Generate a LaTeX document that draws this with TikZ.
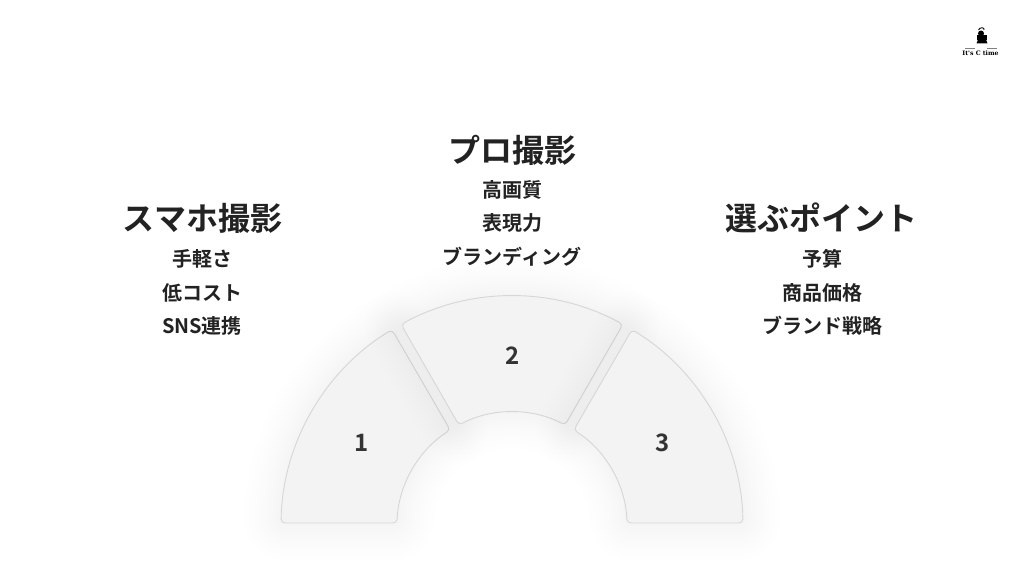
\documentclass[tikz,border=0pt]{standalone}
\usepackage{fontspec}
\setmainfont{Noto Sans CJK JP}[BoldFont={Noto Sans CJK JP Bold}]
\newfontfamily\logofont{DejaVu Serif}[BoldFont={DejaVu Serif Bold}]
\definecolor{inkdark}{HTML}{222222}
\definecolor{inknum}{HTML}{333333}
\definecolor{segfill}{HTML}{F3F3F3}
\definecolor{segline}{HTML}{D6D6D6}
\tikzset{
  headtext/.style={font=\fontsize{32}{32}\selectfont\bfseries,text=inkdark,inner sep=0pt,anchor=center},
  itemtext/.style={font=\fontsize{20}{20}\selectfont\bfseries,text=inkdark,inner sep=0pt,anchor=center},
  numtext/.style={font=\fontsize{24}{24}\selectfont\bfseries,text=inknum,inner sep=0pt,anchor=center},
  segshape/.style={fill=segfill,draw=segline,line width=0.9pt,rounded corners=4pt},
}
\def\segA{(179:231) arc[start angle=179,end angle=121.3,radius=231] -- (122.5:115) arc[start angle=122.5,end angle=178,radius=115] -- cycle}
\def\segB{(118.7:231) arc[start angle=118.7,end angle=61.3,radius=231] -- (62.5:115) arc[start angle=62.5,end angle=117.5,radius=115] -- cycle}
\def\segC{(58.7:231) arc[start angle=58.7,end angle=1,radius=231] -- (2:115) arc[start angle=2,end angle=57.5,radius=115] -- cycle}
\newcommand{\softshadow}[1]{%
  \foreach \w in {74,64,54,46,38,30,24,18,12,6}{
    \path[draw=black,draw opacity=0.004,line width=\w pt,line join=round,rounded corners=4pt] #1;
  }%
}
\begin{document}
\begin{tikzpicture}[x=1pt,y=1pt]
\useasboundingbox (0,0) rectangle (1024,576);
\fill[white] (0,0) rectangle (1024,576);
\begin{scope}[shift={(512,49)}]
  \softshadow{\segA}
  \path[segshape] \segA;
  \softshadow{\segB}
  \path[segshape] \segB;
  \softshadow{\segC}
  \path[segshape] \segC;
\end{scope}
\node[numtext] (n1) at (362,133) {1};
\node[numtext] (n2) at (512.5,220) {2};
\node[numtext] (n3) at (663,133) {3};
\node[headtext] (h1) at (202.5,358) {スマホ撮影};
\node[itemtext] (a1) at (202,317) {手軽さ};
\node[itemtext] (a2) at (202,283) {低コスト};
\node[itemtext] (a3) at (202,250) {SNS連携};
\node[headtext] (h2) at (512,426) {プロ撮影};
\node[itemtext] (b1) at (512,386) {高画質};
\node[itemtext] (b2) at (512,353) {表現力};
\node[itemtext] (b3) at (512,319) {ブランディング};
\node[headtext] (h3) at (821,358) {選ぶポイント};
\node[itemtext] (c1) at (822,317) {予算};
\node[itemtext] (c2) at (822,283) {商品価格};
\node[itemtext] (c3) at (822,250) {ブランド戦略};
% logo
\fill[black] (981,542.5) circle (3);
\fill[black] (977,535.5) rectangle (986.5,541);
\fill[black] (976.5,532.5) -- (987.5,532.5) -- (986,536.5) -- (978,536.5) -- cycle;
\draw[black,line width=0.9pt] (978.5,546) .. controls (979.5,549) and (985,549) .. (984,546);
\draw[gray,line width=0.4pt] (965,528) -- (975,528) (987,528) -- (997,528);
\node[font=\logofont\bfseries\fontsize{6.2}{6}\selectfont,text=black,inner sep=0pt] (logo) at (980.5,523) {It's C time};
\end{tikzpicture}
\end{document}
